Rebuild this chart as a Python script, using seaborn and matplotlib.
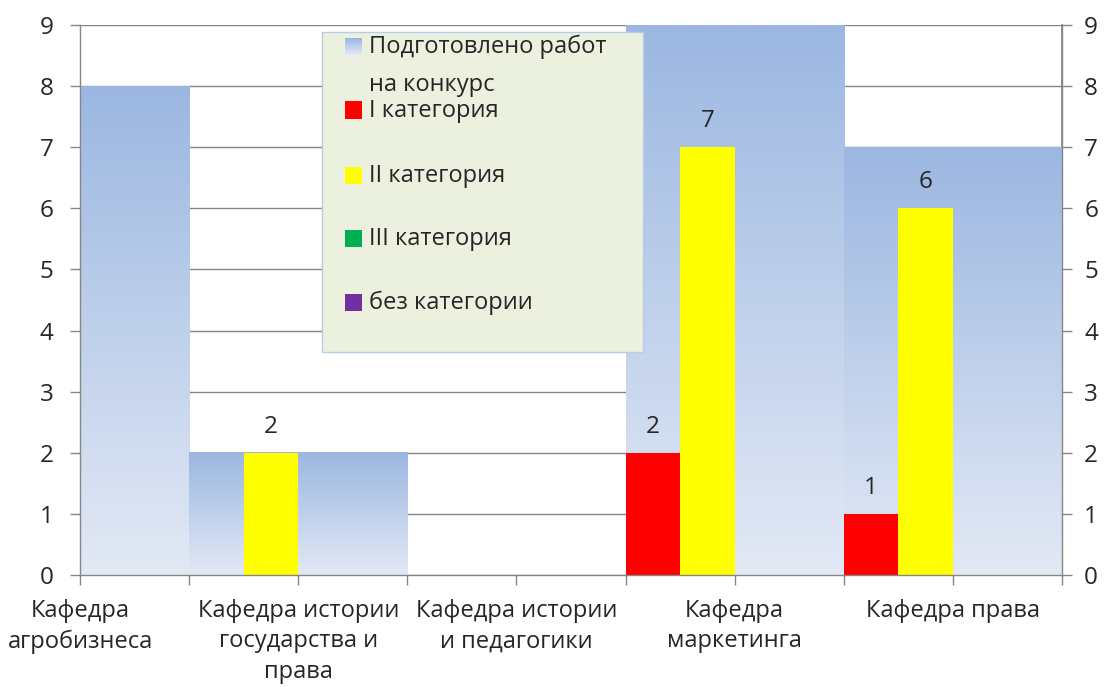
import numpy as np
import pandas as pd
import seaborn as sns
import matplotlib.pyplot as plt
from matplotlib.patches import Rectangle
from matplotlib.colors import LinearSegmentedColormap, to_rgb

# data
departments = ['Кафедра\nагробизнеса', 'Кафедра истории\nгосударства и\nправа',
               'Кафедра истории\nи педагогики', 'Кафедра\nмаркетинга', 'Кафедра права']
submitted = [8, 2, 0, 9, 7]
cat_names = ['I категория', 'II категория', 'III категория', 'без категории']
cat_1 = [0, 0, 0, 2, 1]
cat_2 = [0, 2, 0, 7, 6]
cat_3 = [0, 0, 0, 0, 0]
no_cat = [0, 0, 0, 0, 0]
total_label = 'Подготовлено работ\nна конкурс'

cat_colors = ['#FF0000', '#FFFF00', '#00B050', '#7030A0']
grad_top, grad_bottom = '#9BB7E1', '#E3E9F5'
grey = '#868686'
fs = 17.5
fs_text = 17

sns.set_theme(style='white')
plt.rcParams['font.family'] = ['Open Sans', 'DejaVu Sans']

fig = plt.figure(figsize=(11.05, 6.87), dpi=100)
ax = fig.add_axes([80/1105, 112/687, 982/1105, 550/687])

# background series (full category width)
sns.barplot(x=departments, y=submitted, color=grad_top, width=1.0, saturation=1,
            errorbar=None, linewidth=0, ax=ax)
total_bars = list(ax.containers[0])

# category series, dodged inside each department
long = pd.DataFrame({'dept': departments * 4,
                     'cat': np.repeat(cat_names, len(departments)),
                     'value': cat_1 + cat_2 + cat_3 + no_cat})
sns.barplot(data=long, x='dept', y='value', hue='cat', hue_order=cat_names,
            palette=cat_colors, saturation=1, width=1.0, dodge=True, errorbar=None,
            linewidth=0, legend=False, ax=ax)

# vertical gradient on the background bars
cmap = LinearSegmentedColormap.from_list('grad', [grad_bottom, grad_top])
grad = np.linspace(0, 1, 256).reshape(-1, 1)
for p in total_bars:
    h = p.get_height()
    if h > 0:
        x0 = p.get_x()
        ax.imshow(grad, extent=(x0, x0 + p.get_width(), 0, h), origin='lower',
                  aspect='auto', cmap=cmap, zorder=1.5)
    p.set_visible(False)

for c in ax.containers[1:]:
    for p in c:
        p.set_zorder(2)
    labels = [f'{v:g}' if v > 0 else '' for v in c.datavalues]
    ax.bar_label(c, labels=labels, padding=10, fontsize=fs, zorder=3)

ax.set_xlim(0, 4.5)
ax.set_ylim(0, 9)
ax.set_yticks(range(10))
ax.yaxis.grid(True, color=grey, lw=1.0)
ax.set_axisbelow(True)
ax.set_xlabel('')
ax.set_ylabel('')

# labels at category centres, tick marks every half category
ax.xaxis.remove_overlapping_locs = False
ax.set_xticks(range(5), labels=departments)
ax.set_xticks(np.arange(0, 4.51, 0.5), minor=True)
ax.tick_params(axis='x', which='major', bottom=True, length=0, pad=17, labelsize=fs_text)
ax.tick_params(axis='x', which='minor', bottom=True, length=7, width=1, color=grey)
ax.tick_params(axis='y', left=True, length=7, width=1, color=grey, pad=12, labelsize=fs)
for lbl in ax.get_xticklabels():
    lbl.set_linespacing(1.38)

for side in ['left', 'bottom', 'right']:
    ax.spines[side].set_color(grey)
    ax.spines[side].set_linewidth(1.0)
ax.spines['top'].set_visible(False)

sec = ax.secondary_yaxis('right')
sec.set_yticks(range(10))
sec.tick_params(length=7, width=1, color=grey, pad=9, labelsize=fs)
sec.spines['right'].set_color(grey)

# legend box drawn by hand to match the layout of the original
fig.add_artist(Rectangle((322/1105, 1 - 352/687), 321/1105, 320/687,
                         transform=fig.transFigure, facecolor='#EBF0DF',
                         edgecolor='#B9CDE5', lw=1, zorder=5))
leg_labels = [total_label] + cat_names
marker_y = [47, 110, 175, 238, 302]
for i, (lab, y) in enumerate(zip(leg_labels, marker_y)):
    if i == 0:
        top = np.array(to_rgb(grad_top))
        bot = np.array(to_rgb(grad_bottom))
        t = np.linspace(0, 1, 17).reshape(-1, 1, 1)
        sw = np.repeat(top + (bot - top) * t, 17, axis=1)
        fig.figimage(sw, xo=345, yo=687 - y - 8, origin='upper', zorder=6)
        fig.text(369/1105, 1 - (y + 19)/687, lab, va='center', ha='left', fontsize=fs_text,
                 linespacing=1.75, zorder=6)
    else:
        fig.add_artist(Rectangle((345/1105, 1 - (y + 8.5)/687), 17/1105, 17/687,
                                 transform=fig.transFigure, facecolor=cat_colors[i - 1],
                                 lw=0, zorder=6))
        fig.text(369/1105, 1 - (y + 1)/687, lab, va='center', ha='left', fontsize=fs_text,
                 zorder=6)

fig.savefig('out.png', dpi=100)
